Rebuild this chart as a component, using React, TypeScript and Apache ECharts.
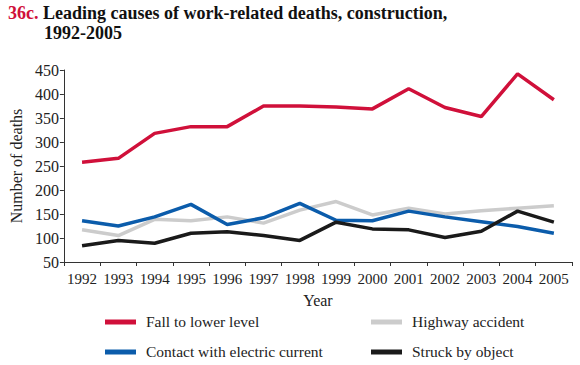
import React, { useEffect, useRef } from "react";
import * as echarts from "echarts";

const years = ["1992","1993","1994","1995","1996","1997","1998","1999","2000","2001","2002","2003","2004","2005"];
const fallToLowerLevel = [258, 266, 318, 332, 332, 375, 375, 373, 369, 411, 372, 353, 442, 388];
const highwayAccident = [117, 105, 139, 136, 144, 131, 158, 176, 148, 162, 150, 157, 162, 167];
const electricCurrent = [136, 125, 144, 170, 128, 142, 172, 137, 136, 156, 144, 134, 124, 110];
const struckByObject = [84, 95, 89, 110, 113, 105, 95, 133, 119, 117, 101, 114, 156, 133];
const seriesNames = ["Fall to lower level", "Highway accident", "Contact with electric current", "Struck by object"];

const FONT = "Liberation Serif";
const RED = "#d0103a";
const BLUE = "#0b5cab";
const GRAY = "#cccccc";
const BLACK = "#1a1a1a";
const COLORS = [RED, GRAY, BLUE, BLACK];

export default function App() {
  const ref = useRef<HTMLDivElement>(null);
  useEffect(() => {
    if (!ref.current) return;
    const chart = echarts.init(ref.current, null, { renderer: "svg" });
    const mkSeries = (name: string, data: number[], color: string) => ({
      name, type: "line", data, symbol: "none", smooth: false,
      lineStyle: { color, width: 3.5 }, itemStyle: { color },
    });
    const legendRects: any[] = [];
    const legendTitles: any[] = [];
    const pos = [[105, 322], [371, 322], [105, 352], [371, 352]];
    seriesNames.forEach((n, i) => {
      const [x, y] = pos[i];
      legendRects.push({
        type: "rect", shape: { x, y: y - 2.5, width: 31, height: 5 },
        style: { fill: COLORS[i] }, silent: true,
      });
      legendTitles.push({
        text: n, left: x + 41, top: y - 9, padding: 0,
        textStyle: { fontFamily: FONT, fontSize: 15.5, fontWeight: "normal", color: "#222" },
      });
    });
    chart.setOption({
      animation: false,
      backgroundColor: "#fff",
      textStyle: { fontFamily: FONT },
      title: [
        {
          text: "{a|36c.} {b|Leading causes of work-related deaths, construction,}",
          left: 8, top: 4, padding: 0,
          textStyle: {
            rich: {
              a: { fontFamily: FONT, fontSize: 18, fontWeight: "bold", color: RED },
              b: { fontFamily: FONT, fontSize: 18, fontWeight: "bold", color: "#111" },
            },
          },
        },
        {
          text: "1992-2005", left: 44, top: 24, padding: 0,
          textStyle: { fontFamily: FONT, fontSize: 18, fontWeight: "bold", color: "#111" },
        },
        ...legendTitles,
      ],
      grid: { left: 60, right: 8, top: 70, bottom: 103, containLabel: false },
      xAxis: {
        type: "category", data: years, boundaryGap: true,
        name: "Year", nameLocation: "middle", nameGap: 30,
        nameTextStyle: { fontFamily: FONT, fontSize: 16, color: "#222" },
        axisLine: { lineStyle: { color: "#333", width: 1 } },
        axisTick: { show: true, length: 4, lineStyle: { color: "#333" } },
        axisLabel: { fontFamily: FONT, fontSize: 15, color: "#222", margin: 9, interval: 0, hideOverlap: false },
      },
      yAxis: {
        type: "value", min: 50, max: 450, interval: 50,
        name: "Number of deaths", nameLocation: "middle", nameGap: 32,
        nameTextStyle: { fontFamily: FONT, fontSize: 16, color: "#222" },
        axisLine: { show: true, lineStyle: { color: "#333", width: 1 } },
        axisTick: { show: true, length: 4, lineStyle: { color: "#333" } },
        axisLabel: { fontFamily: FONT, fontSize: 16, color: "#222", margin: 5 },
        splitLine: { show: false },
      },
      legend: { show: false, data: seriesNames },
      graphic: legendRects,
      series: [
        mkSeries(seriesNames[1], highwayAccident, GRAY),
        mkSeries(seriesNames[2], electricCurrent, BLUE),
        mkSeries(seriesNames[3], struckByObject, BLACK),
        mkSeries(seriesNames[0], fallToLowerLevel, RED),
      ],
    });
    return () => chart.dispose();
  }, []);
  return <div ref={ref} style={{ width: 580, height: 365, position: "absolute", left: 0, top: 0 }} />;
}
